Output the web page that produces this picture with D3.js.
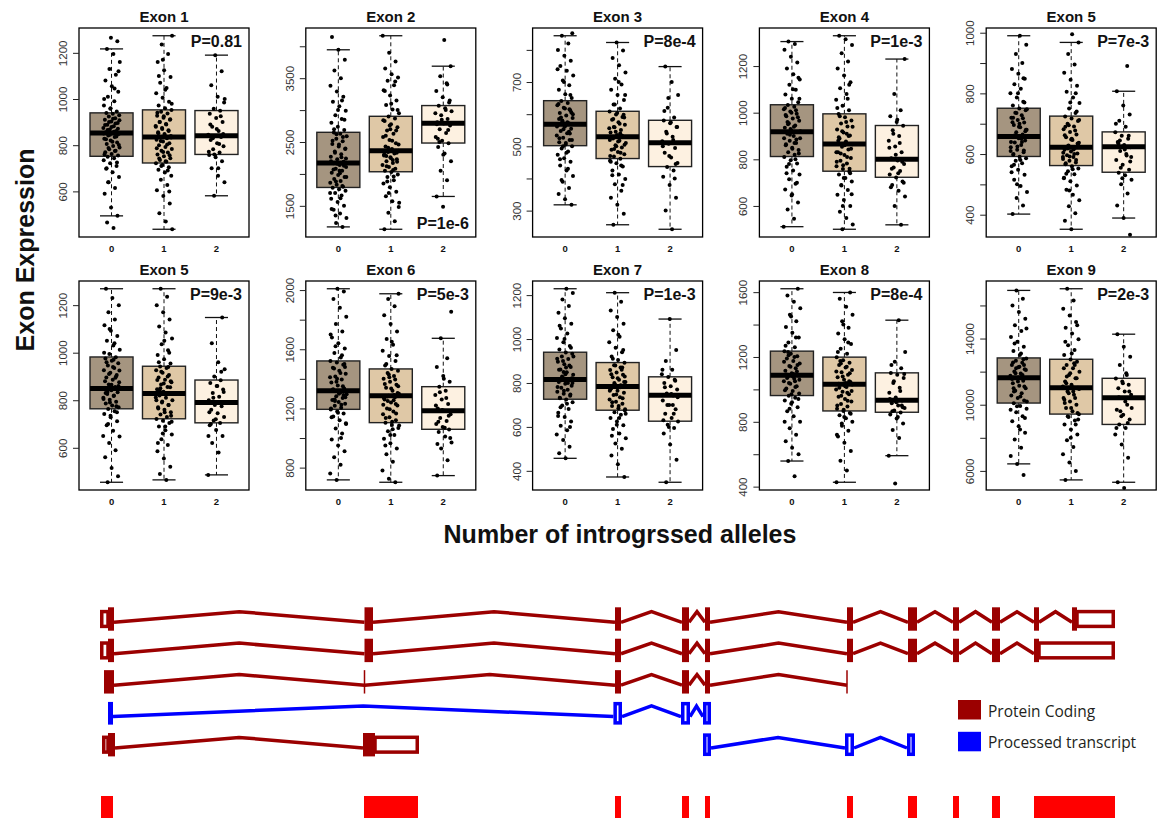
<!DOCTYPE html>
<html><head><meta charset="utf-8">
<script src="https://cdn.jsdelivr.net/npm/d3@7"></script>
<style>body{margin:0;background:#fff;} svg{display:block;}</style>
</head><body>
<svg id="chart" width="1159" height="822"></svg>
<script>
// ---------------- DATA ----------------
const panelTitles = ["Exon 1","Exon 2","Exon 3","Exon 4","Exon 5","Exon 5","Exon 6","Exon 7","Exon 8","Exon 9"];
const pLabels = ["P=0.81","P=1e-6","P=8e-4","P=1e-3","P=7e-3","P=9e-3","P=5e-3","P=1e-3","P=8e-4","P=2e-3"];
const pAtBottom = [false,true,false,false,false,false,false,false,false,false];
const groups = ["0","1","2"];

// box stats per panel: [lower whisker, Q1, median, Q3, upper whisker] for groups 0,1,2
const stats1 = [[494,752,853,940,1217],[436,723,836,953,1274],[581,760,841,950,1190]];
const stats2 = [[1170,1788,2170,2652,3945],[1133,2034,2364,2903,4165],[1647,2484,2793,3071,3688]];
const stats3 = [[318,502,569,642,844],[256,462,530,609,823],[242,437,511,581,748]];
const stats4 = [[511,812,918,1034,1305],[500,749,866,995,1330],[519,723,800,945,1230]];
const stats5 = [[402,592,658,751,990],[352,562,622,725,968],[389,540,624,673,807]];
const stats6 = [[455,764,849,982,1269],[465,722,828,943,1269],[486,705,790,885,1148]];
const stats7 = [[717,1194,1320,1521,2009],[701,1104,1286,1467,1975],[746,1059,1185,1347,1674]];
const stats8 = [[457,726,816,940,1229],[372,676,784,893,1211],[348,626,744,828,1091]];
const stats9 = [[558,962,1087,1236,1621],[427,867,1032,1199,1598],[591,859,933,1102,1427]];
const stats10 = [[6424,10101,11636,12828,16909],[5455,9434,11030,12747,17010],[5313,8808,10424,11596,14263]];

// individual points (approximate readings)
const e1g0 = [441,465,494,530,590,615,640,662,683,698,710,722,735,744,750,755,762,770,776,783,790,797,805,812,820,828,836,842,848,852,856,862,868,875,882,889,896,903,910,917,924,930,936,939,946,958,972,990,1010,1032,1055,1080,1105,1130,1160,1195,1217,1250,1265,
  760,775,788,801,815,826,838,845,851,858,866,871,879,887,894,901,908,915,700,725,960,1000,1045,640,1120];
const e1g1 = [436,470,505,548,580,605,628,650,668,682,694,705,714,722,728,736,744,752,760,768,776,784,792,800,808,816,824,830,835,840,848,856,865,874,883,892,901,910,919,928,937,945,952,960,972,988,1005,1025,1048,1070,1095,1125,1160,1195,1236,1274,
  730,742,756,771,787,803,818,833,844,852,861,870,880,890,900,912,925,940,690,710,980,1040,1100,600,1170];
const e1g2 = [581,640,668,700,730,748,758,768,782,795,808,822,836,840,845,862,880,900,918,936,949,958,985,1010,1060,1120,1190,
  772,805,830,848,870,890,925,760,1000,700];
const e2g0 = [1170,1230,1310,1380,1440,1500,1560,1610,1660,1700,1735,1760,1785,1800,1830,1860,1890,1920,1950,1985,2020,2050,2080,2110,2140,2168,2190,2230,2270,2310,2350,2390,2430,2470,2510,2550,2590,2630,2650,2690,2740,2800,2860,2920,2990,3060,3130,3210,3290,3380,3500,3620,3788,3945,4144,
  1810,1880,1950,2010,2070,2130,2160,2200,2260,2330,2400,2460,2520,2580,2620,1700,1620,2700,2850,3000,1450,3150,1350,2240,2050];
const e2g1 = [1133,1260,1390,1480,1570,1650,1720,1790,1850,1900,1950,1990,2030,2050,2080,2110,2140,2170,2200,2230,2260,2290,2320,2345,2362,2390,2430,2480,2530,2580,2630,2680,2730,2780,2830,2870,2900,2950,3010,3080,3150,3230,3310,3390,3460,3510,3560,3650,3760,3900,4165,
  2060,2120,2190,2250,2310,2360,2410,2460,2520,2600,2680,2760,2840,1960,1880,3000,3100,3300,3450,1700,1550,2220,2280,2330,2700];
const e2g2 = [1484,1647,1900,2050,2200,2320,2420,2480,2520,2580,2640,2700,2760,2790,2810,2860,2920,2980,3030,3070,3120,3200,3300,3420,3530,3688,4100,
  2550,2690,2850,2950,3000,2500,3150,2300,2780,3400];
const e3g0 = [318,335,352,370,390,408,425,440,452,463,474,484,493,500,506,513,520,527,534,541,548,555,561,567,572,580,588,596,604,612,620,628,635,641,650,662,676,690,705,720,735,750,766,782,800,820,844,852,
  510,525,540,553,562,575,590,605,618,632,545,578,600,480,460,660,700,740,430,395,520,565,585,615,500];
const e3g1 = [256,290,318,340,362,382,398,412,425,437,447,455,461,468,475,482,489,496,503,510,517,524,529,535,543,551,559,567,575,583,591,599,608,618,630,644,660,676,692,710,730,752,775,798,823,
  470,480,492,505,515,527,533,545,556,570,585,598,604,452,440,630,660,700,410,380,500,520,540,560,590];
const e3g2 = [242,300,340,380,405,425,436,448,465,480,495,508,516,530,545,560,572,580,590,620,660,700,748,
  445,470,500,520,540,560,575,610,400,650];
const e4g0 = [511,545,585,615,645,670,695,715,735,752,768,782,796,810,820,830,840,850,860,870,880,890,900,910,917,925,935,945,955,965,975,985,995,1005,1015,1025,1033,1045,1060,1078,1098,1120,1142,1165,1190,1215,1240,1270,1295,1305,
  825,845,865,885,905,920,940,960,980,1000,1020,800,780,1060,1100,740,700,930,890,870,950,1150,650,990,1010];
const e4g1 = [500,520,548,575,600,625,648,668,688,705,720,735,748,758,770,782,794,806,818,830,842,854,865,876,889,902,915,928,941,954,967,980,994,1010,1030,1055,1080,1105,1130,1160,1190,1220,1255,1290,1315,1330,
  760,775,790,810,825,845,860,880,900,920,940,960,985,740,720,1020,1060,690,650,870,895,1120,600,830,910];
const e4g2 = [519,600,640,665,690,705,722,735,750,765,780,795,805,830,855,880,900,925,944,960,985,1010,1080,1230,
  740,760,790,820,850,870,910,700,970,680];
const e5g0 = [402,430,455,475,495,515,532,548,560,570,578,586,591,598,606,614,622,630,638,645,652,657,664,672,680,688,696,704,712,720,728,736,744,750,760,772,786,800,815,830,848,865,880,900,930,960,990,
  600,612,625,640,650,662,675,690,705,718,735,748,580,565,770,800,540,640,660,680,700,720,850,500,610];
const e5g1 = [352,380,405,428,448,466,482,496,510,522,533,543,552,560,566,572,578,584,590,596,602,608,614,621,628,637,646,655,664,673,682,691,700,709,717,724,735,750,768,786,805,825,845,868,895,930,968,995,
  570,580,592,604,615,625,635,648,662,678,695,712,550,535,740,770,520,600,618,630,650,690,800,480,590];
const e5g2 = [334,389,430,470,500,515,530,538,548,565,580,595,610,622,630,640,650,660,672,690,710,730,760,807,890,
  555,590,615,635,660,520,700,600,645,575];
const e6g0 = [455,480,515,560,590,620,648,672,695,712,728,742,754,763,770,778,786,794,802,810,818,826,834,842,848,856,866,876,886,896,906,916,926,936,946,956,966,976,981,995,1012,1030,1050,1070,1092,1115,1140,1170,1200,1230,1269,
  775,790,805,820,835,852,865,880,895,910,925,940,960,750,735,1000,1040,700,860,845,830,900,1100,650,970];
const e6g1 = [465,490,520,555,585,612,636,656,674,690,704,714,721,730,740,750,760,770,780,790,800,810,820,827,836,846,856,866,876,886,896,906,916,926,936,942,955,972,990,1010,1035,1060,1085,1110,1140,1170,1200,1235,1269,
  735,750,765,780,795,812,826,840,855,870,885,900,920,710,690,960,1000,660,800,830,850,880,1050,620,940];
const e6g2 = [486,580,620,650,675,695,704,715,730,745,760,775,789,800,815,830,845,860,872,884,900,930,960,1040,1148,
  720,750,790,810,835,860,700,920,780,650];
const e7g0 = [717,760,820,870,910,950,990,1030,1065,1095,1120,1145,1165,1180,1192,1205,1218,1231,1244,1257,1270,1283,1296,1308,1319,1335,1355,1375,1395,1415,1435,1455,1475,1495,1510,1520,1545,1575,1605,1640,1680,1720,1770,1820,1880,1940,1990,2009,
  1200,1225,1250,1275,1300,1325,1350,1380,1410,1440,1470,1500,1170,1140,1560,1620,1100,1310,1330,1290,1400,1700,1000,1260,1480];
const e7g1 = [701,725,780,840,890,930,965,995,1020,1045,1068,1088,1103,1120,1140,1160,1180,1200,1220,1240,1260,1275,1285,1300,1320,1340,1360,1380,1400,1420,1440,1455,1466,1490,1520,1555,1590,1630,1670,1720,1770,1830,1890,1940,1975,
  1110,1135,1165,1195,1225,1255,1280,1305,1335,1365,1395,1430,1085,1060,1500,1560,1020,1270,1290,1250,1350,1650,950,1230,1410];
const e7g2 = [746,850,930,970,1010,1040,1058,1075,1095,1115,1135,1160,1184,1200,1230,1260,1290,1320,1346,1380,1420,1480,1540,1674,1854,
  1070,1110,1150,1190,1220,1270,1310,1000,1400,960];
const e8g0 = [457,480,510,540,565,585,605,625,645,665,682,698,712,725,733,742,751,760,769,778,787,796,805,815,825,837,849,861,873,885,897,909,921,933,939,952,968,985,1005,1025,1048,1070,1095,1120,1150,1180,1210,1229,
  730,748,765,782,800,812,822,840,860,880,900,920,705,690,960,1000,650,815,830,800,870,1060,600,850,910];
const e8g1 = [372,430,470,500,525,548,570,590,608,625,640,655,667,675,685,695,705,715,725,735,745,755,765,775,783,793,804,815,826,837,848,859,870,881,892,905,920,940,960,985,1010,1040,1070,1100,1130,1170,1211,
  680,695,712,730,748,765,780,790,805,822,840,860,880,660,640,910,950,610,770,790,800,830,1020,560,870];
const e8g2 = [348,450,520,570,595,610,625,640,660,680,700,720,743,752,770,785,800,815,827,840,860,900,950,1091,
  630,660,700,735,750,780,810,600,860,700];
const e9g0 = [464,558,600,640,680,720,760,800,835,865,890,912,932,948,961,975,990,1005,1020,1035,1050,1065,1078,1086,1100,1115,1130,1145,1160,1175,1190,1205,1220,1235,1260,1290,1320,1350,1385,1420,1460,1500,1540,1580,1621,
  970,995,1015,1040,1060,1080,1092,1110,1140,1170,1200,1230,940,920,1270,1320,880,1085,1095,1070,1150,1450,800,1050,1210];
const e9g1 = [427,500,560,620,670,710,745,775,800,822,840,855,866,880,895,910,925,940,955,970,985,1000,1015,1031,1045,1060,1075,1090,1105,1120,1135,1150,1165,1180,1198,1220,1250,1280,1310,1345,1380,1420,1460,1510,1560,1598,
  875,900,930,960,990,1020,1035,1050,1080,1110,1140,1175,850,830,1230,1290,790,1030,1040,1010,1100,1400,720,980,1160];
const e9g2 = [420,591,700,750,790,820,845,858,870,885,900,915,932,950,980,1010,1040,1070,1090,1101,1130,1170,1230,1427,
  865,890,920,940,990,1050,1095,830,1150,900];
const e10g0 = [5758,6424,6900,7400,7900,8300,8700,9000,9300,9550,9750,9920,10090,10250,10400,10550,10700,10850,11000,11150,11300,11450,11600,11750,11880,12010,12140,12270,12400,12530,12660,12800,13000,13250,13500,13800,14100,14450,14800,15200,15600,16000,16400,16909,
  10200,10500,10800,11100,11400,11600,11700,11900,12100,12300,12550,12750,9900,9700,13100,13700,9200,11650,11550,11800,12200,14600,8500,11000,12400];
const e10g1 = [5455,6000,6500,7000,7450,7850,8200,8500,8800,9050,9250,9420,9600,9800,10000,10200,10400,10600,10800,11020,11200,11400,11600,11800,12000,12200,12400,12600,12740,13000,13300,13600,13950,14300,14650,15000,15400,15800,16300,17010,
  9500,9800,10100,10400,10700,10950,11050,11300,11600,11900,12200,12500,9300,9100,13100,13800,8800,11000,11100,10800,11700,14800,8000,10300,12400];
const e10g2 = [4970,5313,6800,7600,8200,8600,8800,9100,9400,9700,10000,10400,10600,10800,11000,11200,11400,11590,11900,12400,12900,13500,14263,
  8900,9300,9800,10200,10450,10800,11300,8600,11800,9600];

// y-axis ticks and which are labelled
const ticks1 = [600,800,1000,1200],           labels1 = [600,800,1000,1200];
const ticks2 = [1500,2000,2500,3000,3500,4000], labels2 = [1500,2500,3500];
const ticks3 = [300,400,500,600,700,800],     labels3 = [300,500,700];
const ticks4 = [600,800,1000,1200],           labels4 = [600,800,1000,1200];
const ticks5 = [400,500,600,700,800,900,1000], labels5 = [400,600,800,1000];
const ticks6 = [600,800,1000,1200],           labels6 = [600,800,1000,1200];
const ticks7 = [800,1000,1200,1400,1600,1800,2000], labels7 = [800,1200,1600,2000];
const ticks8 = [400,600,800,1000,1200],       labels8 = [400,600,800,1000,1200];
const ticks9 = [400,600,800,1000,1200,1400,1600], labels9 = [400,800,1200,1600];
const ticks10 = [6000,8000,10000,12000,14000,16000], labels10 = [6000,10000,14000];

const xAxisTitle = "Number of introgrssed alleles";
const yAxisTitle = "Exon Expression";

// gene model: exons as [start, end, cdsStart, cdsEnd] in genomic units
const txA = [[0,14,8,14],[264.5,273,264.5,273],[515,521,515,521],[582,589,582,589],[605,610,605,610],[747,753,747,753],[808,817,808,817],[853,859,853,859],[892,900,892,900],[934,939,934,939],[972,1015,972,977]];
const txB = [[0,14,8,14],[264.5,273,264.5,273],[515,521,515,521],[582,589,582,589],[605,610,605,610],[747,753,747,753],[808,817,808,817],[853,859,853,859],[892,900,892,900],[934,1015,934,939]];
const txC = [[4,14,4,14],[264.5,264.5,264.5,264.5],[515,521,515,521],[582,589,582,589],[605,610,605,610],[747,747,747,747]];
const txD = [[8,13],[513.4,522],[581,590],[603,611]];
const txE = [[2,15,8,15],[263,319,263,275]];
const txF = [[603,611],[745,754],[807,815]];
const txRows = [0,1,2,3,4,4];
const txKinds = ["coding","coding","coding","processed","coding","processed"];
const collapsedExons = [[1,13],[264,318],[515,521],[582,589],[605,610],[747,753],[808,817],[853,859],[892,900],[934,1015]];
const legendLabels = ["Protein Coding","Processed transcript"];

// ---------------- BUILD ----------------
const statsAll = [stats1,stats2,stats3,stats4,stats5,stats6,stats7,stats8,stats9,stats10];
const ptsAll = [[e1g0,e1g1,e1g2],[e2g0,e2g1,e2g2],[e3g0,e3g1,e3g2],[e4g0,e4g1,e4g2],[e5g0,e5g1,e5g2],
                [e6g0,e6g1,e6g2],[e7g0,e7g1,e7g2],[e8g0,e8g1,e8g2],[e9g0,e9g1,e9g2],[e10g0,e10g1,e10g2]];
const ticksAll = [ticks1,ticks2,ticks3,ticks4,ticks5,ticks6,ticks7,ticks8,ticks9,ticks10];
const labelsAll = [labels1,labels2,labels3,labels4,labels5,labels6,labels7,labels8,labels9,labels10];
const boxFill = ["#a59580","#dfc8a6","#fdf1e1"];
const FONT = "'Liberation Sans', Arial, Helvetica, sans-serif";

const svg = d3.select("#chart");
svg.append("rect").attr("width",1159).attr("height",822).attr("fill","#fff");
const defs = svg.append("defs");

const plotW = 170, plotH = 209, left0 = 79, colStep = 226.8, rowTops = [28, 281];

panelTitles.forEach((title, i) => {
  const col = i % 5, row = Math.floor(i / 5);
  const left = left0 + col * colStep, top = rowTops[row];
  const st = statsAll[i];
  const lo = d3.min(st, d => d[0]), hi = d3.max(st, d => d[4]);
  const pad = (hi - lo) * 0.04;
  const y = d3.scaleLinear().domain([lo - pad, hi + pad]).range([top + plotH, top]);
  const x = d3.scaleLinear().domain([0.38, 3.62]).range([left, left + plotW]);
  const g = svg.append("g");

  defs.append("clipPath").attr("id", "clip" + i).append("rect")
    .attr("x", left).attr("y", top).attr("width", plotW).attr("height", plotH);

  // boxes
  const bw = x(1.41) - x(1), sw = x(1.22) - x(1);
  st.forEach((s, k) => {
    const cx = x(k + 1);
    const bg = g.append("g");
    bg.append("line").attr("x1",cx).attr("x2",cx).attr("y1",y(s[3])).attr("y2",y(s[4]))
      .attr("stroke","#111").attr("stroke-width",1).attr("stroke-dasharray","4,3");
    bg.append("line").attr("x1",cx).attr("x2",cx).attr("y1",y(s[1])).attr("y2",y(s[0]))
      .attr("stroke","#111").attr("stroke-width",1).attr("stroke-dasharray","4,3");
    [s[0], s[4]].forEach(v => bg.append("line").attr("x1",cx-sw).attr("x2",cx+sw)
      .attr("y1",y(v)).attr("y2",y(v)).attr("stroke","#111").attr("stroke-width",1.3));
    bg.append("rect").attr("x",cx-bw).attr("width",2*bw)
      .attr("y",y(s[3])).attr("height",y(s[1])-y(s[3]))
      .attr("fill",boxFill[k]).attr("stroke","#222").attr("stroke-width",1.4);
    bg.append("line").attr("x1",cx-bw).attr("x2",cx+bw).attr("y1",y(s[2])).attr("y2",y(s[2]))
      .attr("stroke","#000").attr("stroke-width",5);
  });

  // jittered points
  const pg = g.append("g").attr("clip-path", "url(#clip" + i + ")");
  ptsAll[i].forEach((arr, k) => {
    pg.selectAll(null).data(arr).enter().append("circle")
      .attr("cx", (d, j) => x(k + 1 + ((((j + 1) * 0.6180339887 + k * 0.37 + i * 0.13) % 1) * 2 - 1) * 0.16))
      .attr("cy", d => y(d)).attr("r", 2).attr("fill", "#000");
  });

  // frame
  g.append("rect").attr("x",left).attr("y",top).attr("width",plotW).attr("height",plotH)
    .attr("fill","none").attr("stroke","#000").attr("stroke-width",1.3);

  // y axis
  const labs = labelsAll[i];
  const ax = g.append("g").attr("transform", `translate(${left},0)`)
    .call(d3.axisLeft(y).tickValues(ticksAll[i]).tickSize(6).tickSizeOuter(0)
      .tickFormat(d => labs.includes(d) ? String(d) : ""));
  ax.select(".domain").remove();
  ax.selectAll(".tick line").attr("stroke","#222");
  ax.selectAll(".tick text").attr("transform","rotate(-90)").attr("x",0).attr("y",-12).attr("dy",0)
    .attr("text-anchor","middle").attr("fill","#333")
    .style("font-family",FONT).style("font-size","11.5px");

  // x labels
  groups.forEach((gl, k) => g.append("text").attr("x", x(k + 1)).attr("y", top + plotH + 15)
    .attr("text-anchor","middle").style("font-family",FONT).style("font-size","9.5px")
    .style("font-weight","bold").attr("fill","#111").text(gl));

  // title
  g.append("text").attr("x", left + plotW / 2).attr("y", top - 6.5).attr("text-anchor","middle")
    .style("font-family",FONT).style("font-size","15px").style("font-weight","bold").attr("fill","#111").text(title);

  // p value
  g.append("text").attr("x", left + plotW - 7).attr("y", pAtBottom[i] ? top + plotH - 8.5 : top + 18.7)
    .attr("text-anchor","end").style("font-family",FONT).style("font-size","16px")
    .style("font-weight","bold").attr("fill","#111").text(pLabels[i]);
});

// axis titles
svg.append("text").attr("transform","translate(34,250) rotate(-90)").attr("text-anchor","middle")
  .style("font-family",FONT).style("font-size","25px").style("font-weight","bold").attr("fill","#111").text(yAxisTitle);
svg.append("text").attr("x",620).attr("y",543).attr("text-anchor","middle")
  .style("font-family",FONT).style("font-size","25px").style("font-weight","bold").attr("fill","#111").text(xAxisTitle);

// ---------------- GENE MODEL ----------------
const RED = "#9b0000", BLUE = "#0000ff", BRIGHT = "#ff0000";
const gx = d3.scaleLinear().domain([0, 1015]).range([100, 1115]);
const gy = d3.scaleLinear().domain([0, 4]).range([619, 744.7]);
const gm = svg.append("g");
const txAll = [txA, txB, txC, txD, txE, txF];
const SW = 3.5;

txAll.forEach((ex, t) => {
  const cy = gy(txRows[t]);
  const color = txKinds[t] === "coding" ? RED : BLUE;
  const tg = gm.append("g");
  for (let k = 0; k < ex.length - 1; k++) {
    const x0 = gx(ex[k][1]), x1 = gx(ex[k + 1][0]), xm = (x0 + x1) / 2;
    tg.append("path").attr("d", `M${x0},${cy + 3.3}L${xm},${cy - 7.3}L${x1},${cy + 3.3}`)
      .attr("fill","none").attr("stroke",color).attr("stroke-width",SW).attr("stroke-linejoin","miter");
  }
  ex.forEach(e => {
    if (txKinds[t] === "processed") {
      tg.append("rect").attr("x", gx(e[0]) + SW/2).attr("width", Math.max(0.5, gx(e[1]) - gx(e[0]) - SW))
        .attr("y", cy - 9.6).attr("height", 19.2).attr("fill","#fff").attr("stroke",color).attr("stroke-width",SW);
      return;
    }
    if (e[1] === e[0]) {
      tg.append("line").attr("x1",gx(e[0])).attr("x2",gx(e[0])).attr("y1",cy-11.7).attr("y2",cy+11.7)
        .attr("stroke",color).attr("stroke-width",1.5);
      return;
    }
    if (e[2] > e[0]) tg.append("rect").attr("x", gx(e[0]) + SW/2).attr("width", gx(e[2]) - gx(e[0]) - SW/2)
      .attr("y", cy - 7.4).attr("height", 14.8).attr("fill","#fff").attr("stroke",color).attr("stroke-width",SW);
    if (e[3] < e[1]) tg.append("rect").attr("x", gx(e[3])).attr("width", gx(e[1]) - gx(e[3]) - SW/2)
      .attr("y", cy - 7.4).attr("height", 14.8).attr("fill","#fff").attr("stroke",color).attr("stroke-width",SW);
    tg.append("rect").attr("x", gx(e[2])).attr("width", gx(e[3]) - gx(e[2]))
      .attr("y", cy - 11.7).attr("height", 23.4).attr("fill", color);
  });
});

// collapsed exons
gm.selectAll(null).data(collapsedExons).enter().append("rect")
  .attr("x", d => gx(d[0])).attr("width", d => gx(d[1]) - gx(d[0]))
  .attr("y", 796).attr("height", 22).attr("fill", BRIGHT);

// legend
const legColors = [RED, BLUE];
legendLabels.forEach((lab, k) => {
  const ly = 700 + k * 31.8;
  gm.append("rect").attr("x",958).attr("y",ly).attr("width",23).attr("height",19.5).attr("fill",legColors[k]);
  gm.append("text").attr("x",988).attr("y",ly + 16.5)
    .style("font-family","'Open Sans','Noto Sans',sans-serif").style("font-size","15.5px")
    .attr("fill","#231f20").text(lab);
});
</script>
</body></html>
